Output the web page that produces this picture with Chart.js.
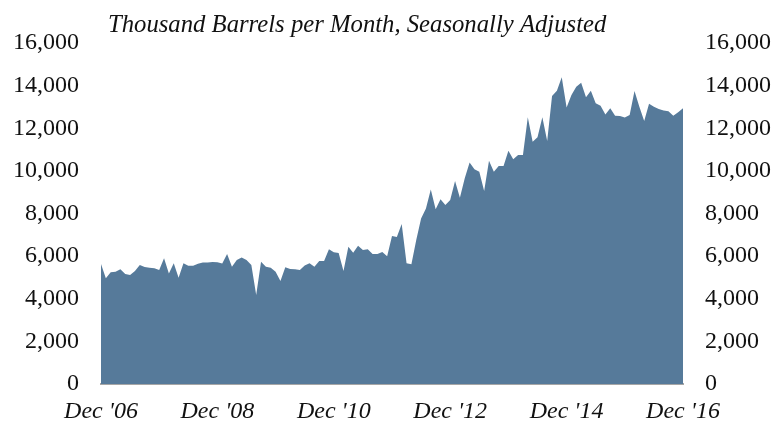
<!DOCTYPE html>
<html>
<head>
<meta charset="utf-8">
<script src="https://cdn.jsdelivr.net/npm/chart.js@4/dist/chart.umd.min.js"></script>
<style>
  html, body { margin: 0; padding: 0; background: #fff; }
</style>
</head>
<body>
<canvas id="chart" width="776" height="428"></canvas>
<script>
// monthly, Dec 2006 .. Dec 2016 (thousand barrels per month, SA)
const monthNames = ['Jan', 'Feb', 'Mar', 'Apr', 'May', 'Jun', 'Jul', 'Aug', 'Sep', 'Oct', 'Nov', 'Dec']
const tickLabels = ["Dec '06", "Dec '08", "Dec '10", "Dec '12", "Dec '14", "Dec '16"]
const barrels = [
    5630, 4960, 5240, 5270, 5380, 5160, 5120, 5300, 5580, 5490, 5450, 5430,
    5350, 5900, 5190, 5660, 4990, 5660, 5550, 5550, 5640, 5700, 5700, 5730,
    5710, 5650, 6100, 5500, 5820, 5930, 5820, 5580, 4180, 5740, 5500, 5460,
    5270, 4830, 5480, 5400, 5380, 5350, 5560, 5660, 5500, 5770, 5770, 6320,
    6180, 6150, 5300, 6440, 6160, 6490, 6290, 6320, 6100, 6100, 6190, 6000,
    6950, 6900, 7510, 5660, 5620, 6760, 7770, 8240, 9130, 8200, 8670, 8400,
    8630, 9530, 8740, 9650, 10390, 10080, 9960, 9060, 10480, 9960, 10230, 10230,
    10950, 10540, 10750, 10750, 12520, 11370, 11580, 12520, 11400, 13510, 13760, 14390,
    12970, 13560, 13950, 14140, 13450, 13760, 13170, 13050, 12640, 12940, 12590, 12580,
    12500, 12620, 13750, 13010, 12340, 13150, 13010, 12900, 12830, 12800, 12590, 12750,
    12940
]
const title = 'Thousand Barrels per Month, Seasonally Adjusted'

const months = []
for (let i = 0; i < barrels.length; i++) {
    const m = (11 + i) % 12
    const y = 6 + Math.floor((11 + i) / 12)
    months.push(monthNames[m] + " '" + String(y).padStart(2, '0'))
}

const serif = "'Liberation Serif', 'DejaVu Serif', serif"

const titlePlugin = {
    id: 'topTitle',
    afterDraw(chart) {
        const ctx = chart.ctx
        ctx.save()
        ctx.font = 'italic 24.7px ' + serif
        ctx.fillStyle = '#111'
        ctx.textAlign = 'left'
        ctx.textBaseline = 'alphabetic'
        ctx.fillText(title, 108, 32)
        ctx.restore()
    }
}

const yTicks = {
    padding: 22,
    color: '#111',
    font: { family: serif, size: 24 },
    stepSize: 2000,
    callback: (v) => v.toLocaleString('en-US')
}

const data = {
    labels: months,
    datasets: [{
            label: title,
            data: barrels,
            backgroundColor: '#567a9a',
            borderWidth: 0,
            pointRadius: 0,
            fill: 'origin',
            tension: 0
        }]
}

const config = {
    type: 'line',
    data: data,
    plugins: [titlePlugin],
    options: {
        responsive: false,
        animation: false,
        layout: { padding: { top: 43, bottom: 0, left: 0, right: 0 } },
        plugins: {
            legend: { display: false },
            tooltip: { enabled: false }
        },
        scales: {
            x: {
                offset: false,
                grid: { display: false, drawTicks: false },
                border: { display: true, color: '#a6a6a6', width: 2 },
                ticks: {
                    autoSkip: false,
                    maxRotation: 0,
                    padding: 13,
                    color: '#111',
                    font: { family: serif, size: 24, style: 'italic' },
                    callback: function (v, i) {
                        const lab = this.getLabelForValue(v)
                        return tickLabels.includes(lab) ? lab : ''
                    }
                },
                afterFit: (s) => { s.height = 44 }
            },
            y: {
                position: 'left',
                min: 0,
                max: 16000,
                grid: { display: false, drawTicks: false },
                border: { display: false },
                ticks: yTicks,
                afterFit: (s) => { s.width = 101 }
            },
            y2: {
                position: 'right',
                min: 0,
                max: 16000,
                grid: { display: false, drawTicks: false },
                border: { display: false },
                ticks: yTicks,
                afterFit: (s) => { s.width = 93 }
            }
        }
    }
}

let ctx = document.getElementById('chart').getContext('2d')
new Chart(ctx, config)
</script>
</body>
</html>
